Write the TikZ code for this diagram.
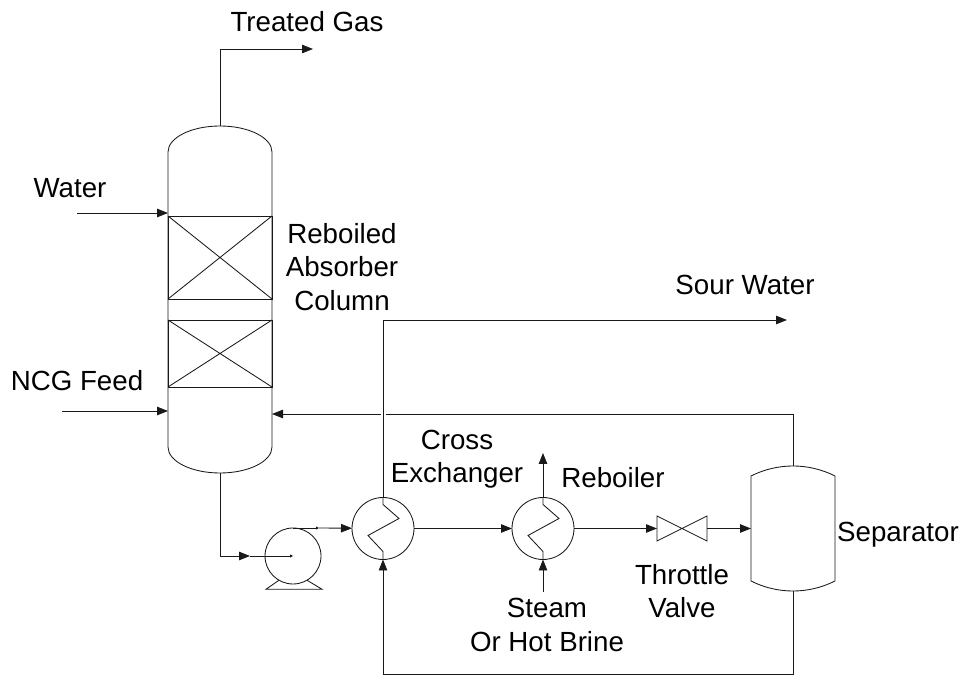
\documentclass[tikz,border=0pt]{standalone}
\usepackage{fontspec}
\setmainfont{Liberation Sans}
\usetikzlibrary{arrows.meta,positioning,calc}
\newcommand{\coilzig}[1]{\draw[pipe] (#1.north) -- ++(0,-7) -- ++(16,-14) -- ++(-31,-17) -- ++(15,-16) -- (#1.south);}

\begin{document}
\begin{tikzpicture}[
    x=1pt, y=1pt,
    node distance=98pt,
    pipe/.style={line width=0.85pt, black!90},
    flow/.style={pipe, -{Stealth[inset=0pt,length=11pt,width=8.5pt]}},
    stub/.style={pipe, -{Stealth[inset=0pt,length=3pt,width=3pt]}},
    vessel/.style={rectangle, inner sep=0pt, outer sep=0pt},
    packing/.style={rectangle, draw, line width=0.85pt, black!90, inner sep=0pt, outer sep=0pt, minimum width=104pt},
    exchanger/.style={circle, draw, line width=0.85pt, black!90, inner sep=0pt, outer sep=0pt, minimum size=62pt},
    tag/.style={inner sep=0pt, align=center, font=\fontsize{27.7}{33.5}\selectfont}
]
\useasboundingbox (0,0) rectangle (962,675);

% Equipment
\node[vessel, minimum width=104pt, minimum height=347pt] (column) at (220,375.5) {};
\node[packing, minimum height=83pt] (packtop) at (220,417.5) {};
\node[packing, minimum height=67pt, below=21pt of packtop] (packlow) {};
\node[exchanger] (cross) at (383,146.5) {};
\node[exchanger, right=of cross] (reboiler) {};
\node[vessel, minimum width=50pt, minimum height=25pt, right=83pt of reboiler] (valve) {};
\node[vessel, minimum width=84pt, minimum height=125pt, right=44pt of valve] (separator) {};
\node[circle, draw, line width=0.85pt, black!90, inner sep=0pt, outer sep=0pt, minimum size=56pt] (pump) at (293,119) {};

\draw[pipe] ($(column.north west)+(0,-26)$) arc[start angle=180, end angle=0, x radius=52, y radius=26]
    -- ($(column.south east)+(0,26)$) arc[start angle=0, end angle=-180, x radius=52, y radius=26] -- cycle;
\draw[pipe] (packtop.north west) -- (packtop.south east) (packtop.north east) -- (packtop.south west);
\draw[pipe] (packlow.north west) -- (packlow.south east) (packlow.north east) -- (packlow.south west);
\draw[pipe] ($(separator.north west)+(0,-10)$) arc[start angle=116.8, end angle=63.2, radius=93.2]
    -- ($(separator.south east)+(0,10)$) arc[start angle=-63.2, end angle=-116.8, radius=93.2] -- cycle;
\draw[pipe] (valve.north west) -- (valve.south east) -- (valve.north east) -- (valve.south west) -- cycle;
\draw[pipe] (pump.240) -- ++(-13,-9) -- ++(56,0) -- (pump.300);
\coilzig{cross}
\coilzig{reboiler}

% Free ends and bends
\coordinate (gasend) at (313,626);
\coordinate (watersrc) at (77,462);
\coordinate (ncgsrc) at (62,264);
\coordinate (pumpin) at (250,119);
\coordinate (pumptick) at (319,147);
\coordinate (sourend) at (787,355);
\coordinate (ventend) at (543,222);
\coordinate (steamsrc) at (543,83);
\coordinate (returnend) at (272,261);
\coordinate (gapright) at (385.5,261);
\coordinate (gapleft) at (380.5,261);
\coordinate (loopbot) at (383,1);

% Streams
\draw[flow] (column.north) |- (gasend);
\draw[flow] (watersrc) -- (watersrc -| column.west);
\draw[flow] (ncgsrc) -- (ncgsrc -| column.west);
\draw[flow] (column.south) |- (pumpin);
\draw[stub] (pumpin) -- (pump.center);
\draw[stub] (pump.north) -- (pumptick);
\draw[flow] (pumptick) -- (cross);
\draw[flow] (cross) -- (reboiler);
\draw[flow] (reboiler) -- (valve);
\draw[flow] (valve) -- (separator);
\draw[flow] (reboiler.north) -- (ventend);
\draw[flow] (steamsrc) -- (reboiler.south);
\draw[flow] (cross.north) |- (sourend);
\draw[pipe] (separator.north) |- (gapright);
\draw[flow] (gapleft) -- (returnend);
\draw[flow] (separator.south) |- (loopbot) -- (cross.south);

% Labels
\node[tag] (gaslabel) at (307,653) {Treated Gas};
\node[tag] (waterlabel) at (70,487) {Water};
\node[tag] (ncglabel) at (77,294) {NCG Feed};
\node[tag] (columnlabel) at (342,408) {Reboiled\\Absorber\\Column};
\node[tag] (sourlabel) at (745,390) {Sour Water};
\node[tag] (crosslabel) at (457,216) {Cross\\Exchanger};
\node[tag] (reboilerlabel) at (613,197) {Reboiler};
\node[tag] (steamlabel) at (547,50) {Steam\\Or Hot Brine};
\node[tag] (valvelabel) at (682,84) {Throttle\\Valve};
\node[tag] (separatorlabel) at (898,140) {Separator};
\end{tikzpicture}
\end{document}
